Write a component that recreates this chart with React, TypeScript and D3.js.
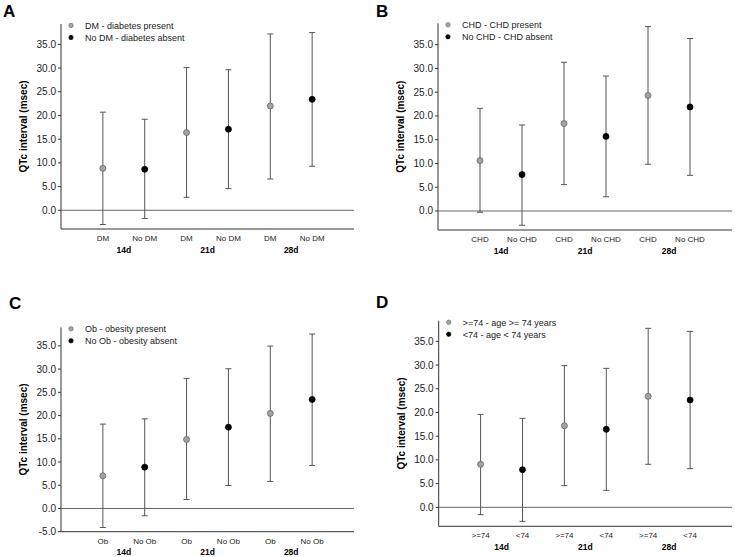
import React from "react";
import * as d3 from "d3";

// ---- Data ----
const timepoints = ["14d", "21d", "28d"];

const labelsA = ["DM", "No DM"];
const legendA = ["DM - diabetes present", "No DM - diabetes absent"];
const meanA1 = [8.85, 16.4, 22.0];
const lowA1 = [-3.0, 2.74, 6.6];
const highA1 = [20.7, 30.1, 37.2];
const meanA2 = [8.65, 17.1, 23.4];
const lowA2 = [-1.75, 4.57, 9.28];
const highA2 = [19.2, 29.65, 37.5];

const labelsB = ["CHD", "No CHD"];
const legendB = ["CHD - CHD present", "No CHD - CHD absent"];
const meanB1 = [10.6, 18.4, 24.3];
const lowB1 = [-0.28, 5.55, 9.84];
const highB1 = [21.6, 31.3, 38.8];
const meanB2 = [7.66, 15.7, 21.9];
const lowB2 = [-3.0, 3.0, 7.5];
const highB2 = [18.1, 28.4, 36.3];

const labelsC = ["Ob", "No Ob"];
const legendC = ["Ob - obesity present", "No Ob - obesity absent"];
const meanC1 = [7.03, 14.86, 20.46];
const lowC1 = [-4.1, 1.94, 5.81];
const highC1 = [18.16, 28.0, 34.96];
const meanC2 = [8.9, 17.5, 23.47];
const lowC2 = [-1.58, 4.95, 9.26];
const highC2 = [19.3, 30.08, 37.55];

const labelsD = [">=74", "<74"];
const legendD = [">=74 - age >= 74 years", "<74 - age < 74 years"];
const meanD1 = [9.07, 17.2, 23.4];
const lowD1 = [-1.55, 4.57, 9.07];
const highD1 = [19.6, 29.87, 37.74];
const meanD2 = [7.94, 16.44, 22.63];
const lowD2 = [-2.95, 3.58, 8.15];
const highD2 = [18.76, 29.3, 37.1];

const ticksABD = [0, 5, 10, 15, 20, 25, 30, 35];
const ticksC = [-5, 0, 5, 10, 15, 20, 25, 30, 35];

const FONT = "Liberation Sans, Arial, Helvetica, sans-serif";
const GRAY_FILL = "#a3a3a3";

type PanelProps = {
  letter: string;
  letterX: number;
  letterY: number;
  x0: number;
  x1: number;
  yTop: number;
  yBot: number;
  domain: [number, number];
  ticks: number[];
  labels: string[];
  legend: string[];
  m1: number[]; l1: number[]; h1: number[];
  m2: number[]; l2: number[]; h2: number[];
};

function Panel(p: PanelProps) {
  const x = d3.scaleLinear().domain([0, 7]).range([p.x0, p.x1]);
  const y = d3.scaleLinear().domain(p.domain).range([p.yBot, p.yTop]);
  const items: { pos: number; m: number; l: number; h: number; grp: number; t: number }[] = [];
  timepoints.forEach((_, t) => {
    items.push({ pos: 1 + t * 2, m: p.m1[t], l: p.l1[t], h: p.h1[t], grp: 0, t });
    items.push({ pos: 2 + t * 2, m: p.m2[t], l: p.l2[t], h: p.h2[t], grp: 1, t });
  });
  const cap = 3;
  return (
    <g fontFamily={FONT}>
      <text x={p.letterX} y={p.letterY} fontSize={17} fontWeight="bold" fill="#000">{p.letter}</text>
      {/* axes */}
      <line x1={p.x0} x2={p.x0} y1={p.yTop} y2={p.yBot} stroke="#333" strokeWidth={1} />
      <line x1={p.x0} x2={p.x1} y1={p.yBot} y2={p.yBot} stroke="#333" strokeWidth={1} />
      {/* zero line */}
      <line x1={p.x0} x2={p.x1} y1={y(0)} y2={y(0)} stroke="#666" strokeWidth={1} />
      {p.ticks.map((v) => (
        <g key={v}>
          <line x1={p.x0 - 3} x2={p.x0} y1={y(v)} y2={y(v)} stroke="#333" />
          <text x={p.x0 - 5} y={y(v) + 3.5} fontSize={10} textAnchor="end" fill="#222">{v.toFixed(1)}</text>
        </g>
      ))}
      <text
        transform={`translate(${p.x0 - 34},${(p.yTop + p.yBot) / 2}) rotate(-90)`}
        fontSize={10}
        fontWeight="bold"
        textAnchor="middle"
        fill="#000"
      >QTc interval (msec)</text>
      {/* error bars */}
      {items.map((it, i) => (
        <g key={i}>
          <line x1={x(it.pos)} x2={x(it.pos)} y1={y(it.l)} y2={y(it.h)} stroke="#555" strokeWidth={1} />
          <line x1={x(it.pos) - cap} x2={x(it.pos) + cap} y1={y(it.h)} y2={y(it.h)} stroke="#555" />
          <line x1={x(it.pos) - cap} x2={x(it.pos) + cap} y1={y(it.l)} y2={y(it.l)} stroke="#555" />
          <circle cx={x(it.pos)} cy={y(it.m)} r={3} fill={it.grp === 0 ? GRAY_FILL : "#000"} stroke={it.grp === 0 ? "#666" : "#000"} strokeWidth={0.8} />
          <text x={x(it.pos)} y={p.yBot + 12} fontSize={8} textAnchor="middle" fill="#222">{p.labels[it.grp]}</text>
        </g>
      ))}
      {timepoints.map((tp, t) => (
        <text key={tp} x={x(1.5 + t * 2)} y={p.yBot + 23.5} fontSize={8.5} fontWeight="bold" textAnchor="middle" fill="#000">{tp}</text>
      ))}
      {/* legend */}
      {p.legend.map((lg, i) => (
        <g key={lg}>
          <circle cx={p.x0 + 10} cy={p.yTop + 1.5 + i * 12} r={2.2} fill={i === 0 ? GRAY_FILL : "#000"} stroke={i === 0 ? "#666" : "#000"} strokeWidth={0.6} />
          <text x={p.x0 + 24} y={p.yTop + 4.8 + i * 12} fontSize={9} fill="#222">{lg}</text>
        </g>
      ))}
    </g>
  );
}

export default function App() {
  return (
    <svg width={735} height={557} style={{ position: "absolute", left: 0, top: 0, background: "#fff" }}>
      <rect width={735} height={557} fill="#fff" />
      <Panel letter="A" letterX={3} letterY={16.5} x0={61} x1={354} yTop={24} yBot={229} domain={[-3.95, 39.3]} ticks={ticksABD}
        labels={labelsA} legend={legendA} m1={meanA1} l1={lowA1} h1={highA1} m2={meanA2} l2={lowA2} h2={highA2} />
      <Panel letter="B" letterX={376} letterY={16.5} x0={438} x1={732} yTop={23.3} yBot={230} domain={[-4, 39.5]} ticks={ticksABD}
        labels={labelsB} legend={legendB} m1={meanB1} l1={lowB1} h1={highB1} m2={meanB2} l2={lowB2} h2={highB2} />
      <Panel letter="C" letterX={9} letterY={308.5} x0={61} x1={354} yTop={327.3} yBot={531.7} domain={[-5, 39]} ticks={ticksC}
        labels={labelsC} legend={legendC} m1={meanC1} l1={lowC1} h1={highC1} m2={meanC2} l2={lowC2} h2={highC2} />
      <Panel letter="D" letterX={376} letterY={307.5} x0={438.7} x1={732} yTop={320.7} yBot={526.3} domain={[-4, 39.35]} ticks={ticksABD}
        labels={labelsD} legend={legendD} m1={meanD1} l1={lowD1} h1={highD1} m2={meanD2} l2={lowD2} h2={highD2} />
    </svg>
  );
}
